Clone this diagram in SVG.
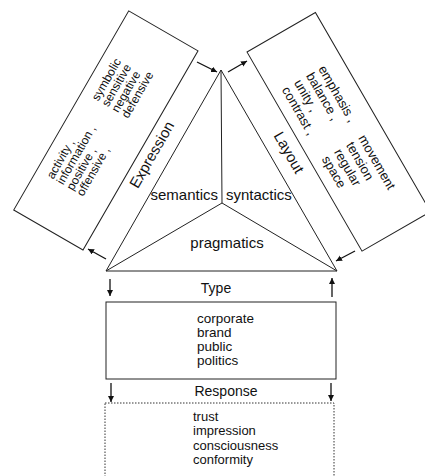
<svg xmlns="http://www.w3.org/2000/svg" width="425" height="476" viewBox="0 0 425 476">
<style>
text{font-family:"Liberation Sans",Arial,sans-serif;fill:#111}
.ln{stroke:#222;stroke-width:1;fill:none}
.box{stroke:#222;stroke-width:1;fill:#fff}
.dot{stroke:#333;stroke-width:1;fill:#fff;stroke-dasharray:1.5 1.5}
.arr{stroke:#111;stroke-width:1.3;fill:none;marker-end:url(#ah)}
.lab{font-size:15px}
.sm{font-size:12px}
.md{font-size:13px}
.ty{font-size:13.5px}
</style>
<defs>
<marker id="ah" markerUnits="userSpaceOnUse" markerWidth="7" markerHeight="7" refX="6" refY="3" orient="auto">
<path d="M0,0 L6,3 L0,6 z" fill="#111"/>
</marker>
</defs>
<rect width="425" height="476" fill="#fff"/>
<g id="expression-box" transform="translate(83,250) rotate(-60)">
<rect class="box" x="0" y="-80" width="230" height="80"/>
<text class="sm" x="46" y="-61">activity ,</text>
<text class="sm" x="46" y="-49.5">information ,</text>
<text class="sm" x="46" y="-38">positive ,</text>
<text class="sm" x="46" y="-26.5">offensive ,</text>
<text class="sm" x="136" y="-61">symbolic</text>
<text class="sm" x="136" y="-49.5">sensitive</text>
<text class="sm" x="136" y="-38">negative</text>
<text class="sm" x="136" y="-26.5">defensive</text>
<text class="lab" x="117" y="17" text-anchor="middle">Expression</text>
</g>
<g id="layout-box" transform="translate(247,52) rotate(60)">
<rect class="box" x="0" y="-79" width="230" height="79"/>
<text class="md" x="50" y="-53">emphasis ,</text>
<text class="md" x="50" y="-39">balance ,</text>
<text class="md" x="50" y="-25">unity ,</text>
<text class="md" x="50" y="-11">contrast ,</text>
<text class="md" x="130" y="-53">movement</text>
<text class="md" x="130" y="-39">tension</text>
<text class="md" x="130" y="-25">regular</text>
<text class="md" x="130" y="-11">space</text>
<text class="lab" x="108" y="19" text-anchor="middle">Layout</text>
</g>
<g id="triangle">
<path class="ln" d="M221,70 L106,271 L337,271 Z"/>
<path class="ln" d="M221,70 L222,203 M106,271 L222,203 L337,271"/>
<text class="lab" x="218" y="200" text-anchor="end">semantics</text>
<text class="lab" x="226" y="200">syntactics</text>
<text class="lab" x="227" y="248" text-anchor="middle">pragmatics</text>
</g>
<g id="type-box">
<text style="font-size:14px" x="216" y="293" text-anchor="middle">Type</text>
<rect class="box" x="106" y="302" width="230" height="77"/>
<text class="ty" x="197" y="323">corporate</text>
<text class="ty" x="197" y="337">brand</text>
<text class="ty" x="197" y="351">public</text>
<text class="ty" x="197" y="365">politics</text>
</g>
<g id="response-box">
<text style="font-size:14px" x="226" y="396" text-anchor="middle">Response</text>
<rect class="dot" x="105" y="403" width="229" height="90"/>
<text class="md" x="193" y="421">trust</text>
<text class="md" x="193" y="435">impression</text>
<text class="md" x="193" y="450">consciousness</text>
<text class="md" x="193" y="464">conformity</text>
</g>
<g id="connectors">
<path class="arr" d="M197,62 L217,72"/>
<path class="arr" d="M228,72 L247,61"/>
<path class="arr" d="M355,251 L336,261"/>
<path class="arr" d="M106,259 L88,249"/>
<path class="arr" d="M110,279 L110,296"/>
<path class="arr" d="M332,297 L332,278"/>
<path class="arr" d="M111,383 L111,402"/>
<path class="arr" d="M331,383 L331,401"/>
</g>
</svg>
